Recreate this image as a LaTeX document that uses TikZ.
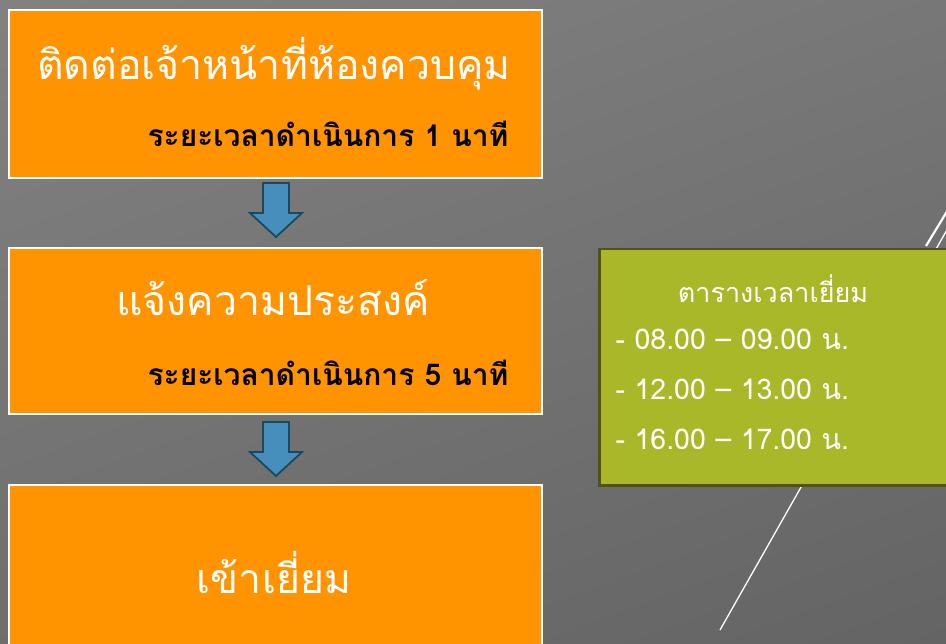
\documentclass[tikz,border=0pt]{standalone}
\usepackage{fontspec}
\newfontfamily\thai[Script=Thai]{Loma}
\definecolor{boxorange}{HTML}{FF9300}
\definecolor{boxgreen}{HTML}{A8B828}
\definecolor{greenedge}{HTML}{505410}
\definecolor{arrowblue}{HTML}{468EBB}
\definecolor{arrowedge}{HTML}{1C4A5C}
\tikzset{
  stepbox/.style={draw=white, line width=2pt, fill=boxorange, anchor=north west, inner sep=0pt},
  titletext/.style={text=white, font=\thai\fontsize{41}{46}\selectfont},
  subtext/.style={text=black, font=\thai\bfseries\fontsize{30}{34}\selectfont, anchor=east},
  greenhead/.style={text=white, font=\thai\fontsize{27}{31}\selectfont},
  greentext/.style={text=white, font=\thai\fontsize{28.5}{32}\selectfont, anchor=west},
  flowarrow/.style={fill=arrowblue, draw=arrowedge, line width=1.8pt, line join=miter}
}
\begin{document}
\begin{tikzpicture}[x=1pt,y=-1pt]
\useasboundingbox (0,0) rectangle (946,644);
\clip (0,0) rectangle (946,644);
% background
\shade[shading=axis, top color=black!48, bottom color=black!62, shading angle=20] (-200,-200) rectangle (1146,844);
% decorative lines
\coordinate (l1a) at (720,630);
\coordinate (l1b) at (948,228);
\draw[white, line width=1.3pt] (l1a) -- (l1b);
\coordinate (l2a) at (926,246);
\coordinate (l2b) at (960,190);
\draw[white, line width=2.2pt] (l2a) -- (l2b);
% boxes
\node[stepbox, minimum width=533pt, minimum height=168pt] (b1) at (8,9) {};
\node[stepbox, minimum width=533pt, minimum height=166pt] (b2) at (8,247) {};
\node[stepbox, minimum width=533pt, minimum height=180pt] (b3) at (8,484) {};
\node[draw=greenedge, line width=2.5pt, fill=boxgreen, anchor=north west, inner sep=0pt, minimum width=360pt, minimum height=236pt] (g) at (598,248) {};
% texts
\node[titletext] (t1) at (274,64) {ติดต่อเจ้าหน้าที่ห้องควบคุม};
\node[subtext] (s1) at (512,134) {ระยะเวลาดำเนินการ 1 นาที};
\node[titletext] (t2) at (273,298) {แจ้งความประสงค์};
\node[subtext] (s2) at (512,373) {ระยะเวลาดำเนินการ 5 นาที};
\node[titletext] (t3) at (274,573) {เข้าเยี่ยม};
\node[greenhead] (gt) at (773,289) {ตารางเวลาเยี่ยม};
\node[greentext] (g1) at (612,339) {- 08.00 – 09.00 น.};
\node[greentext] (g2) at (612,389) {- 12.00 – 13.00 น.};
\node[greentext] (g3) at (612,439) {- 16.00 – 17.00 น.};
% arrows
\coordinate (a1) at (276,183);
\coordinate (a2) at (276,422);
\draw[flowarrow] (a1) ++(-13,0) -- ++(26,0) -- ++(0,30) -- ++(13,0) -- ++(-26,24) -- ++(-26,-24) -- ++(13,0) -- cycle;
\draw[flowarrow] (a2) ++(-13,0) -- ++(26,0) -- ++(0,30) -- ++(13,0) -- ++(-26,24) -- ++(-26,-24) -- ++(13,0) -- cycle;
\end{tikzpicture}
\end{document}
